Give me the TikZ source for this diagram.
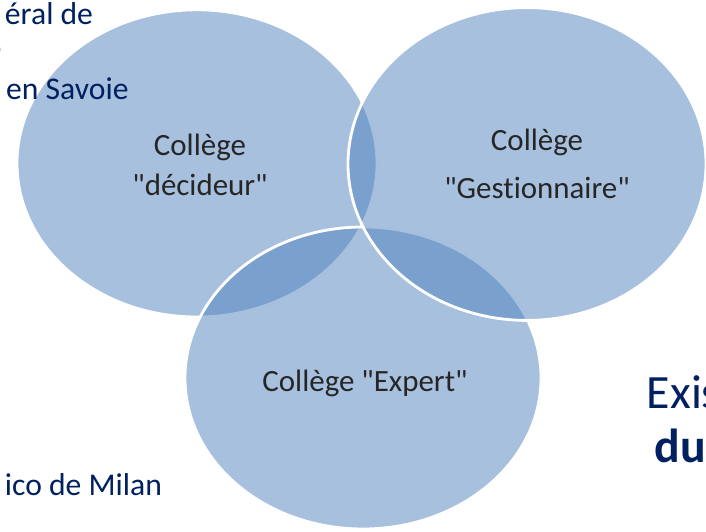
\documentclass[tikz,border=0pt]{standalone}
\usepackage{fontspec}
\setmainfont{Carlito}[Ligatures={TeXOff,NoCommon}]
\usetikzlibrary{shapes.geometric}
\definecolor{vennblue}{HTML}{4F81BD}
\definecolor{navytext}{HTML}{002060}
\definecolor{labelgray}{HTML}{262626}
\begin{document}
\begin{tikzpicture}[
			venn/.style={ellipse, fill=vennblue, fill opacity=0.5, draw=white, draw opacity=1, line width=2pt, inner sep=0pt},
			college/.style={text=labelgray, font=\fontsize{22}{28.5}\selectfont, align=center},
			side/.style={text=navytext, font=\fontsize{22.5}{27}\selectfont, anchor=base west}
			]
			\path[use as bounding box, clip] (0,0) rectangle (17.65,13.275);
			
			% Cercles
			\node (decideur) [venn, minimum width=9cm, minimum height=7.68cm] at (4.925,9.19) {};
			\node (expert) [venn, minimum width=8.9cm, minimum height=7.55cm] at (9.075,3.825) {};
			\node (gestion) [venn, minimum width=8.95cm, minimum height=7.82cm] at (13.175,9.175) {};
			
			% Etiquettes
			\node (lab_dec) [college] at (5.0,9.15) {Collège\\"décideur"};
			\node (lab_ges) [college, font=\fontsize{22}{34}\selectfont] at (13.425,9.175) {Collège\\"Gestionnaire"};
			\node (lab_exp) [college] at (9.125,3.7) {Collège "Expert"};
			
			% Textes coupes
			\node (txt_a) [side] at (0.0,12.65) {éral de};
			\node (txt_b) [side, anchor=base east] at (0.16,11.825) {o};
			\node (txt_c) [side] at (0.03,10.775) {en Savoie};
			\node (txt_d) [side] at (0.0,0.9) {ico de Milan};
			\node (txt_e) [text=navytext, font=\fontsize{34}{40}\selectfont, anchor=base west] at (16.05,3.075) {Exis};
			\node (txt_f) [text=navytext, font=\fontsize{34}{40}\selectfont\bfseries, anchor=base west] at (16.25,1.725) {du};
		\end{tikzpicture}
\end{document}
